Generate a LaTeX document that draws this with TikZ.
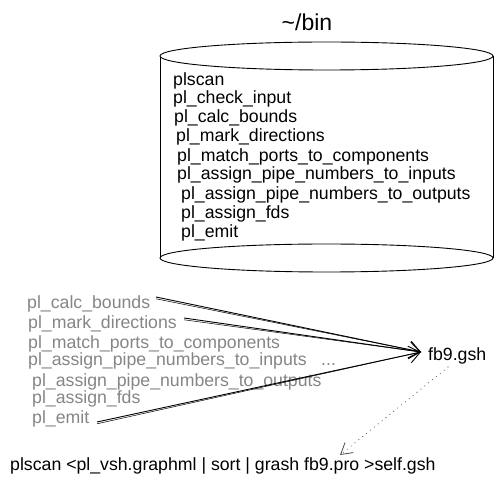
\documentclass[tikz,border=0pt]{standalone}
\usepackage{fontspec}
\setmainfont{Liberation Sans}
\usetikzlibrary{arrows.meta}
\definecolor{txtgray}{HTML}{858585}
\begin{document}
\begin{tikzpicture}[x=1pt,y=-1pt,
  ln/.style={font=\fontsize{17.7}{19}\selectfont, anchor=base west, inner sep=0pt},
  gl/.style={ln, text=txtgray},
  arr/.style={line width=0.9pt, -{Straight Barb[length=11pt,width=17pt,line width=0.9pt]}},
  sk/.style={line width=0.5pt},
  dotarr/.style={line width=1.1pt, line cap=round, dash pattern=on 0pt off 5pt, black!70, -{Straight Barb[length=11pt,width=13pt,line width=0.8pt]}}]
\useasboundingbox (0,0) rectangle (504,486);
% cylinder
\draw[line width=0.9pt] (160,56) -- (160,258);
\draw[line width=0.9pt] (493,56) -- (493,258);
\draw[line width=0.9pt, fill=white] (326.5,56) ellipse [x radius=166.5, y radius=14];
\draw[line width=0.9pt] (326.5,258) ellipse [x radius=166.5, y radius=14];
\node[font=\fontsize{23}{25}\selectfont, inner sep=0pt] (title) at (307,22) {\textasciitilde/bin};
% cylinder contents
\node[ln] (c1) at (173,86) {plscan};
\node[ln] (c2) at (173,104) {pl\_check\_input};
\node[ln] (c3) at (174,123) {pl\_calc\_bounds};
\node[ln] (c4) at (176,142) {pl\_mark\_directions};
\node[ln] (c5) at (177,162) {pl\_match\_ports\_to\_components};
\node[ln] (c6) at (177,180) {pl\_assign\_pipe\_numbers\_to\_inputs};
\node[ln] (c7) at (181,200) {pl\_assign\_pipe\_numbers\_to\_outputs};
\node[ln] (c8) at (181,219) {pl\_assign\_fds};
\node[ln] (c9) at (181,238) {pl\_emit};
% gray list
\node[gl] (g1) at (27,309) {pl\_calc\_bounds};
\node[gl] (g2) at (28,329) {pl\_mark\_directions};
\node[gl] (g3) at (28,349) {pl\_match\_ports\_to\_components};
\node[gl] (g4) at (28,366) {pl\_assign\_pipe\_numbers\_to\_inputs};
\node[gl] (dots) at (321,366) {...};
\node[gl] (g5) at (32,387) {pl\_assign\_pipe\_numbers\_to\_outputs};
\node[gl] (g6) at (32,404) {pl\_assign\_fds};
\node[gl] (g7) at (32,424) {pl\_emit};
% target
\node[ln] (fb) at (428,361) {fb9.gsh};
% command
\node[ln] (cmd) at (10,471) {plscan <pl\_vsh.graphml | sort | grash fb9.pro >self.gsh};
% arrows
\coordinate (s1) at (156,297);
\coordinate (s2) at (184,318);
\coordinate (s3) at (97,422);
\coordinate (t) at (421,352);
\coordinate (pro) at (340,455);
\coordinate (fbs) at (448,367);
\draw[arr] (s1) -- (t);
\draw[sk] ([yshift=-1.8pt]s1) -- (t);
\draw[arr] (s2) -- (t);
\draw[sk] ([yshift=-1.8pt]s2) -- (t);
\draw[arr] (s3) -- (t);
\draw[sk] ([yshift=-1.8pt]s3) -- (t);
\draw[dotarr] (fbs) -- (pro);
\end{tikzpicture}
\end{document}
